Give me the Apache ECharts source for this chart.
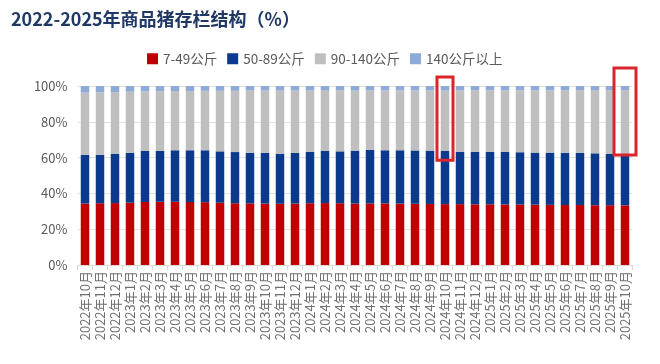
<!DOCTYPE html>
<html><head><meta charset="utf-8">
<script src="https://cdn.jsdelivr.net/npm/echarts@6/dist/echarts.min.js"></script>
<style>html,body{margin:0;padding:0;background:#fff}#c{width:660px;height:364px}</style>
</head><body><div id="c"></div>
<script>
const categories = ['2022年10月','2022年11月','2022年12月','2023年1月','2023年2月','2023年3月','2023年4月','2023年5月','2023年6月','2023年7月','2023年8月','2023年9月','2023年10月','2023年11月','2023年12月','2024年1月','2024年2月','2024年3月','2024年4月','2024年5月','2024年6月','2024年7月','2024年8月','2024年9月','2024年10月','2024年11月','2024年12月','2025年1月','2025年2月','2025年3月','2025年4月','2025年5月','2025年6月','2025年7月','2025年8月','2025年9月','2025年10月'];
const seriesNames = ['7-49公斤','50-89公斤','90-140公斤','140公斤以上'];
const s7_49 = [34.3,34.5,34.6,34.8,35.2,35.3,35.3,35.2,35.1,34.8,34.5,34.4,34.3,34.2,34.3,34.5,34.6,34.5,34.3,34.4,34.4,34.3,34.2,34.1,34.0,34.0,33.9,33.9,33.8,33.8,33.7,33.6,33.5,33.5,33.4,33.4,33.3];
const s50_89 = [27.3,27.1,27.6,27.9,28.5,28.4,28.8,28.9,29.0,28.7,28.6,28.3,28.3,27.8,28.3,28.8,29.1,29.0,29.6,30.0,29.7,29.8,29.8,29.8,29.7,29.3,29.4,29.4,29.5,29.2,29.1,29.2,29.1,29.1,29.0,28.8,28.0];
const s140p = [3.7,3.6,3.4,3.2,3.0,2.9,2.8,2.8,2.7,2.7,2.7,2.6,2.6,2.6,2.6,2.6,2.6,2.5,2.5,2.5,2.5,2.5,2.5,2.5,2.5,2.5,2.4,2.4,2.4,2.4,2.4,2.4,2.4,2.3,2.3,2.3,2.3];
const s90_140 = s7_49.map((v,i)=>+(100 - v - s50_89[i] - s140p[i]).toFixed(1));
const yTicks = [0,20,40,60,80,100];
const highlight = [{cat:'2024年10月', from:58.5, to:105, pad:0}, {cat:'2025年10月', from:61.5, to:110, pad:3}];

const colors = ['#C00000','#0B3A8C','#BFBFBF','#8EAAD6'];
const chart = echarts.init(document.getElementById('c'));
const mk = (name, data, i) => ({name, type:'bar', stack:'s', data, barWidth:8.5, itemStyle:{color:colors[i]}, emphasis:{disabled:true}});
chart.setOption({
  animation:false,
  title:{text:'2022-2025年商品猪存栏结构（%）', left:6, top:5, textStyle:{fontFamily:'Noto Sans CJK SC', fontSize:18, fontWeight:'bold', color:'#1F3864'}},
  legend:{top:47, left:142, itemWidth:11, itemHeight:11, itemGap:10, icon:'rect', textStyle:{fontFamily:'Noto Sans CJK SC', fontSize:13.5, color:'#595959'}, data:seriesNames},
  grid:{left:77.5, right:27.5, top:86, bottom:99},
  xAxis:{type:'category', data:categories, axisLine:{lineStyle:{color:'#D9D9D9'}}, axisTick:{show:true, lineStyle:{color:'#D9D9D9'}, length:5}, axisLabel:{rotate:90, interval:0, fontFamily:'Noto Sans CJK SC', fontSize:13, color:'#6F6F6F', margin:6}},
  yAxis:{type:'value', min:0, max:100, interval:20, axisLabel:{formatter:'{value}%', fontFamily:'Noto Sans CJK SC', fontSize:13, color:'#595959', margin:10}, splitLine:{lineStyle:{color:'#E3E3E3'}}, axisLine:{show:false}, axisTick:{show:false}},
  series:[mk(seriesNames[0], s7_49, 0), mk(seriesNames[1], s50_89, 1), mk(seriesNames[2], s90_140, 2), mk(seriesNames[3], s140p, 3)]
});
const band = chart.convertToPixel({xAxisIndex:0}, categories[1]) - chart.convertToPixel({xAxisIndex:0}, categories[0]);
const graphics = highlight.map(h => {
  const cx = chart.convertToPixel({xAxisIndex:0}, h.cat);
  const y1 = chart.convertToPixel({yAxisIndex:0}, h.to);
  const y2 = chart.convertToPixel({yAxisIndex:0}, h.from);
  const w = band + h.pad*2 + 1;
  return {type:'rect', shape:{x:cx - w/2, y:y1, width:w, height:y2-y1}, style:{fill:null, stroke:'#D9262B', lineWidth:3}, z:100};
});
chart.setOption({graphic:graphics});
</script></body></html>
